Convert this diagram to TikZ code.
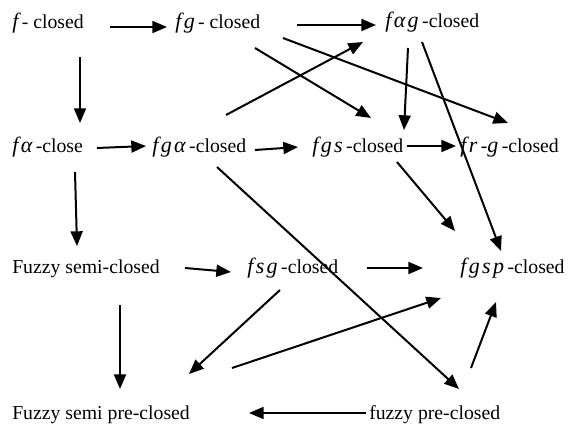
\documentclass[tikz,border=0pt]{standalone}
\usepackage{fontspec}
\setmainfont{Liberation Serif}
\usetikzlibrary{arrows.meta}
% italic symbol runs, slightly larger and spaced like a math font
\newcommand{\mi}[1]{{\fontsize{16.5}{17}\selectfont\itshape #1\kern2.6pt}}
\newcommand{\ks}{\kern1.8pt}
\begin{document}
\begin{tikzpicture}[x=0.75pt,y=-0.75pt,
  lbl/.style={anchor=base west,inner sep=0pt,font=\fontsize{14.8}{17}\selectfont},
  arr/.style={line width=1.5pt,-{Triangle[length=11pt,width=9pt]}}]
\useasboundingbox (0,0) rectangle (569,425);
% labels
\node[lbl] (fc)   at (12,28)  {\mi{f}- closed};
\node[lbl] (fgc)  at (175,28) {\mi{f\ks g}- closed};
\node[lbl] (fag)  at (385,27) {\mi{f\ks α\ks g}-closed};
\node[lbl] (fa)   at (12,152) {\mi{f\ks α}-close};
\node[lbl] (fga)  at (152,152){\mi{f\ks g\ks α}-closed};
\node[lbl] (fgs)  at (312,152){\mi{f\ks g\ks s}-closed};
\node[lbl] (frg)  at (460,152){\mi{f\ks r}-\mi{g}-closed};
\node[lbl] (fsc)  at (12,273) {Fuzzy semi-closed};
\node[lbl] (fsg)  at (247,273){\mi{f\ks s\ks g}-closed};
\node[lbl] (fgsp) at (460,273){\mi{f\ks g\ks s\ks p}-closed};
\node[lbl] (fspc) at (12,419) {Fuzzy semi pre-closed};
\node[lbl] (fpc)  at (369,419){fuzzy pre-closed};
% connector end points
\coordinate (a1s) at (110,27);  \coordinate (a1e) at (167,27);
\coordinate (a2s) at (80,57);   \coordinate (a2e) at (80,123);
\coordinate (a3s) at (297,25);  \coordinate (a3e) at (376,25);
\coordinate (a4s) at (255,48);  \coordinate (a4e) at (371,118);
\coordinate (a5s) at (283,38);  \coordinate (a5e) at (508,123);
\coordinate (a6s) at (226,115); \coordinate (a6e) at (363,42);
\coordinate (a7s) at (408,48);  \coordinate (a7e) at (404,130);
\coordinate (a8s) at (422,42);  \coordinate (a8e) at (501,251);
\coordinate (a9s) at (97,148);  \coordinate (a9e) at (146,146);
\coordinate (b1s) at (255,150); \coordinate (b1e) at (298,147);
\coordinate (b2s) at (407,146); \coordinate (b2e) at (456,146);
\coordinate (b3s) at (75,172);  \coordinate (b3e) at (77,246);
\coordinate (b4s) at (217,167); \coordinate (b4e) at (459,389);
\coordinate (b5s) at (397,162); \coordinate (b5e) at (455,231);
\coordinate (b6s) at (185,268); \coordinate (b6e) at (231,272);
\coordinate (b7s) at (367,268); \coordinate (b7e) at (423,268);
\coordinate (b8s) at (120,305); \coordinate (b8e) at (120,389);
\coordinate (b9s) at (280,290); \coordinate (b9e) at (189,374);
\coordinate (c1s) at (232,368); \coordinate (c1e) at (441,298);
\coordinate (c2s) at (366,413); \coordinate (c2e) at (249,413);
\coordinate (c3s) at (471,368); \coordinate (c3e) at (496,302);
% connectors
\foreach \a in {a1,a2,a3,a4,a5,a6,a7,a8,a9,b1,b2,b3,b4,b5,b6,b7,b8,b9,c1,c2,c3}
  \draw[arr] (\a s) -- (\a e);
\end{tikzpicture}
\end{document}
